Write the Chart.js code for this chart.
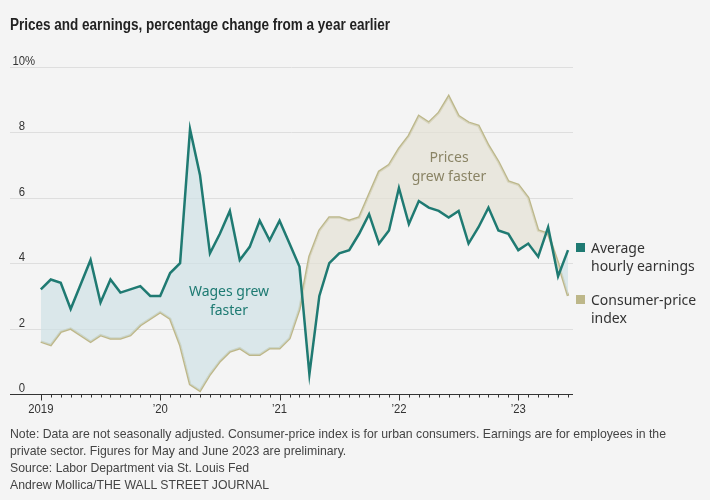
<!DOCTYPE html>
<html>
<head>
<meta charset="utf-8">
<script src="https://cdn.jsdelivr.net/npm/chart.js@4"></script>
<style>
  html, body { margin:0; padding:0; background:#f4f4f4; }
  #wrap { position:relative; width:710px; height:500px; overflow:hidden; }
  canvas { position:absolute; left:0; top:0; }
  .t { position:absolute; white-space:nowrap; transform-origin:0 0; }
  #title { left:10px; top:16px; font:bold 16px "Liberation Sans",sans-serif; color:#222; }
  #note { left:10px; top:425px; font:13.5px/17px "Liberation Sans",sans-serif; color:#444; }
  #note span { display:inline-block; }
  .ann { font:14px/19px "Noto Sans",sans-serif; text-align:center; }
  .leg { font:14px/18px "Noto Sans",sans-serif; color:#333; }
  .sq { position:absolute; width:9px; height:9px; }
</style>
</head>
<body>
<div id="wrap">
<canvas id="c" width="710" height="500"></canvas>
<div id="title" class="t">Prices and earnings, percentage change from a year earlier</div>
<div class="t ann" style="left:179px;top:281px;width:100px;color:#1d7a72;">Wages grew<br>faster</div>
<div class="t ann" style="left:399px;top:147px;width:100px;color:#8a8465;">Prices<br>grew faster</div>
<div class="sq" style="left:576px;top:243px;background:#1f7a72;"></div>
<div class="t leg" style="left:591px;top:239px;">Average<br>hourly earnings</div>
<div class="sq" style="left:576px;top:295px;background:#bdb789;"></div>
<div class="t leg" style="left:591px;top:291px;">Consumer-price<br>index</div>
<div id="note" class="t"><span id="n1">Note: Data are not seasonally adjusted. Consumer-price index is for urban consumers. Earnings are for employees in the</span><br><span>private sector. Figures for May and June 2023 are preliminary.</span><br><span>Source: Labor Department via St. Louis Fed</span><br><span>Andrew Mollica/THE WALL STREET JOURNAL</span></div>
</div>
<script>
// Monthly, Jan 2019 – Jun 2023
const earnings = [3.2,3.5,3.4,2.6,3.35,4.1,2.8,3.5,3.1,3.2,3.3,3.0,
  3.0,3.7,4.0,8.1,6.7,4.3,4.9,5.6,4.1,4.5,5.3,4.7,
  5.3,4.6,3.9,0.6,3.0,4.0,4.3,4.4,4.9,5.5,4.6,5.0,
  6.3,5.2,5.9,5.7,5.6,5.4,5.6,4.6,5.1,5.7,5.0,4.9,
  4.4,4.6,4.2,5.1,3.6,4.4];
const cpi = [1.6,1.5,1.9,2.0,1.8,1.6,1.8,1.7,1.7,1.8,2.1,2.3,
  2.5,2.3,1.5,0.3,0.1,0.6,1.0,1.3,1.4,1.2,1.2,1.4,
  1.4,1.7,2.6,4.2,5.0,5.4,5.4,5.3,5.4,6.1,6.8,7.0,
  7.5,7.9,8.5,8.3,8.6,9.1,8.5,8.3,8.2,7.6,7.1,6.5,
  6.4,6.0,5.0,4.9,4.0,3.0];
const yearTickIndex = [0,12,24,36,48];
const yearLabels = ['2019','\u201920','\u201921','\u201922','\u201923'];
const yTicks = [0,2,4,6,8,10];

// condense text to reference widths
(function(){
  const t=document.getElementById('title');
  t.style.transform='scaleX('+(380/t.scrollWidth)+')';
  const n=document.getElementById('note'), n1=document.getElementById('n1');
  n.style.transform='scaleX('+(656/n1.getBoundingClientRect().width)+')';
})();

const toPts = arr => arr.map((v,i)=>({x:i,y:v}));
const tickFont='13px "Liberation Sans",sans-serif';

function condensedText(ctx, s, x, y, align, sx){
  ctx.save();
  ctx.translate(x,y); ctx.scale(sx,1);
  ctx.textAlign=align; ctx.fillText(s,0,0);
  ctx.restore();
}

const axisPlugin = {
  id:'axisPlugin',
  beforeDraw(chart){
    const {ctx, chartArea:a, scales:{x,y}} = chart;
    ctx.save();
    ctx.fillStyle='#f4f4f4';
    ctx.fillRect(0,0,chart.width,chart.height);
    ctx.strokeStyle='#dedede'; ctx.lineWidth=1;
    yTicks.forEach(v=>{
      if(v===0) return;
      const py=Math.round(y.getPixelForValue(v))+0.5;
      ctx.beginPath(); ctx.moveTo(a.left,py); ctx.lineTo(a.right,py); ctx.stroke();
    });
    ctx.restore();
  },
  afterDatasetsDraw(chart){
    const {ctx, chartArea:a, scales:{x,y}} = chart;
    ctx.save();
    const py=Math.round(y.getPixelForValue(0))+0.5;
    ctx.strokeStyle='#333'; ctx.lineWidth=1;
    ctx.beginPath(); ctx.moveTo(a.left,py); ctx.lineTo(a.right,py); ctx.stroke();
    for(let m=0;m<earnings.length;m++){
      const px=Math.round(x.getPixelForValue(m))+0.5;
      const major=yearTickIndex.includes(m);
      ctx.beginPath(); ctx.moveTo(px,py); ctx.lineTo(px,py+(major?6:3)); ctx.stroke();
    }
    ctx.fillStyle='#333';
    ctx.font=tickFont;
    ctx.textBaseline='middle';
    yearTickIndex.forEach((m,i)=>{
      condensedText(ctx, yearLabels[i], x.getPixelForValue(m), py+15, 'center', 0.87);
    });
    ctx.textBaseline='alphabetic';
    yTicks.forEach(v=>{
      const yy=y.getPixelForValue(v)-2;
      condensedText(ctx, String(v), 25, yy, 'right', 0.87);
      if(v===10) condensedText(ctx, '%', 25, yy, 'left', 0.87);
    });
    ctx.restore();
  }
};

new Chart(document.getElementById('c'), {
  type:'line',
  data:{
    datasets:[
      { label:'Average hourly earnings', data:toPts(earnings), borderColor:'#1f7a72', borderWidth:2.5,
        pointRadius:0, tension:0,
        fill:{target:1, above:'rgba(206,225,230,0.7)', below:'rgba(228,225,212,0.7)'} },
      { label:'Consumer-price index', data:toPts(cpi), borderColor:'#bdb789', borderWidth:2.5,
        pointRadius:0, tension:0, fill:false }
    ]
  },
  options:{
    responsive:false, animation:false, devicePixelRatio:1,
    layout:{padding:{left:10, right:137, top:67, bottom:106}},
    plugins:{legend:{display:false}, tooltip:{enabled:false}},
    scales:{
      x:{type:'linear', min:-3.1, max:53.5, display:false},
      y:{min:0, max:10, display:false}
    }
  },
  plugins:[axisPlugin]
});
</script>
</body>
</html>
